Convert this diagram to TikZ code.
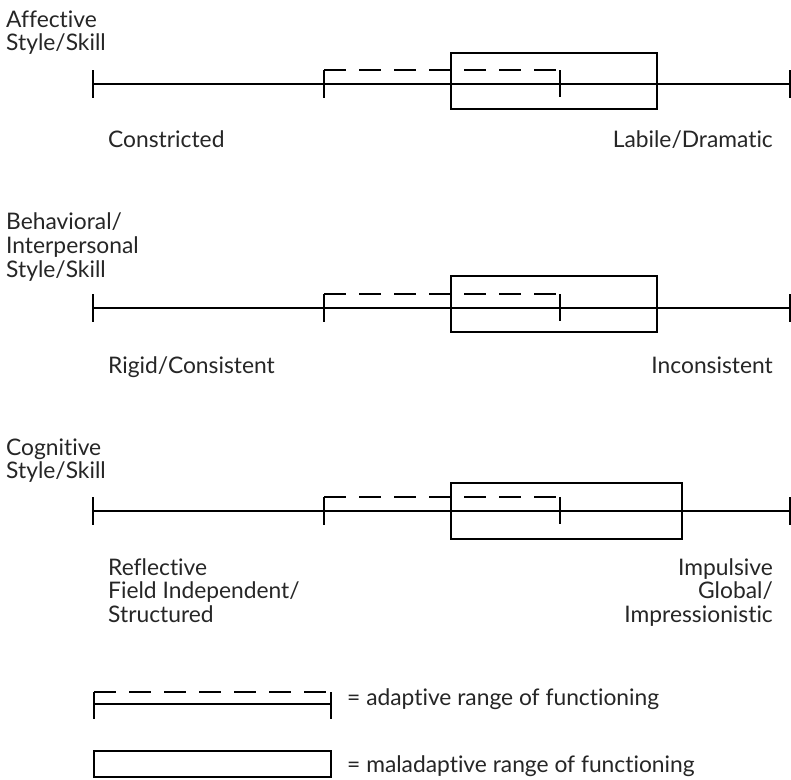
\documentclass[tikz,border=0pt]{standalone}
\usepackage{fontspec}
\setmainfont{Lato}[Ligatures=NoCommon]
\begin{document}
\begin{tikzpicture}[x=1pt,y=-1pt,
  ln/.style={line width=1.4pt,black},
  dsh/.style={line width=1.4pt,black,dash pattern=on 22pt off 13pt},
  lab/.style={inner sep=0pt,font=\fontsize{22.8}{24}\selectfont,text=black!85},
  lw/.style={lab,anchor=base west},
  le/.style={lab,anchor=base east}]
\useasboundingbox[fill=white] (0,0) rectangle (791,779);
% panels: axis y / box top / box bottom / box right
\foreach \yy/\bt/\bb/\br in {84/53/109/657, 308/276/332/657, 511/483/539/682}{
  \draw[ln] (93,\yy) -- (790,\yy);
  \draw[ln] (93,\yy-14) -- (93,\yy+14);
  \draw[ln] (790,\yy-14) -- (790,\yy+14);
  \draw[ln] (324,\yy-14) -- (324,\yy+14);
  \draw[dsh] (324,\yy-14) -- (560,\yy-14);
  \draw[ln] (560,\yy-14) -- (560,\yy+13);
  \draw[ln] (451,\bt) rectangle (\br,\bb);
}
% panel 1 texts
\node[lw] (t1a) at (6,27) {Affective};
\node[lw] (t1b) at (6,50) {Style/Skill};
\node[lw] (l1) at (108,147) {Constricted};
\node[le] (r1) at (773,147) {Labile/Dramatic};
% panel 2 texts
\node[lw] (t2a) at (6,229) {Behavioral/};
\node[lw] (t2b) at (6,253) {Interpersonal};
\node[lw] (t2c) at (6,277) {Style/Skill};
\node[lw] (l2) at (108,373) {Rigid/Consistent};
\node[le] (r2) at (773,373) {Inconsistent};
% panel 3 texts
\node[lw] (t3a) at (6,455) {Cognitive};
\node[lw] (t3b) at (6,478) {Style/Skill};
\node[lw] (l3a) at (108,575) {Reflective};
\node[lw] (l3b) at (108,598) {Field Independent/};
\node[lw] (l3c) at (108,622) {Structured};
\node[le] (r3a) at (773,575) {Impulsive};
\node[le] (r3b) at (773,598) {Global/};
\node[le] (r3c) at (773,622) {Impressionistic};
% legend
\draw[dsh] (94,692) -- (331,692);
\draw[ln] (94,704) -- (331,704);
\draw[ln] (94,692) -- (94,719);
\draw[ln] (331,692) -- (331,719);
\draw[ln] (94,751) rectangle (331,777);
\node[lw] (k1) at (347,705) {= adaptive range of functioning};
\node[lw] (k2) at (347,772) {= maladaptive range of functioning};
\end{tikzpicture}
\end{document}
